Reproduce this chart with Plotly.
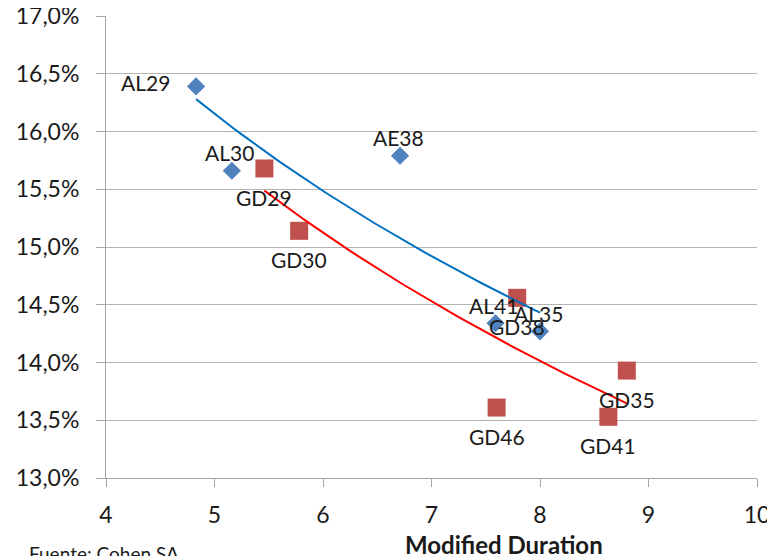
import numpy as np
import plotly.graph_objects as go

# Blue series (AL / AE bonds)
al_names = ["AL29", "AL30", "AE38", "AL41", "AL35"]
al_duration = [4.83, 5.16, 6.71, 7.59, 8.00]
al_yield = [16.39, 15.66, 15.79, 14.34, 14.27]

# Red series (GD bonds)
gd_names = ["GD29", "GD30", "GD38", "GD35", "GD46", "GD41"]
gd_duration = [5.46, 5.78, 7.79, 8.80, 7.60, 8.63]
gd_yield = [15.68, 15.14, 14.56, 13.93, 13.61, 13.53]

x_ticks = [4, 5, 6, 7, 8, 9, 10]
y_ticks = [13.0, 13.5, 14.0, 14.5, 15.0, 15.5, 16.0, 16.5, 17.0]
y_tick_labels = ["13,0%", "13,5%", "14,0%", "14,5%", "15,0%",
                 "15,5%", "16,0%", "16,5%", "17,0%"]

FONT = "Lato"
TXT = "#1a1a1a"


def log_trend(xs, ys, n=60):
    xs = np.asarray(xs, float)
    ys = np.asarray(ys, float)
    b, a = np.polyfit(np.log(xs), ys, 1)
    xf = np.linspace(xs.min(), xs.max(), n)
    return xf, a + b * np.log(xf)


fig = go.Figure()

fig.add_trace(go.Scatter(
    x=al_duration, y=al_yield, mode="markers",
    marker=dict(symbol="diamond", size=14, color="#4F81BD"),
    showlegend=False, hoverinfo="skip"))
fig.add_trace(go.Scatter(
    x=gd_duration, y=gd_yield, mode="markers",
    marker=dict(symbol="square", size=18, color="#C0504D"),
    showlegend=False, hoverinfo="skip"))

bx, by = log_trend(al_duration, al_yield)
rx, ry = log_trend(gd_duration, gd_yield)
fig.add_trace(go.Scatter(x=bx, y=by, mode="lines",
                         line=dict(color="#0070C0", width=2),
                         showlegend=False, hoverinfo="skip"))
fig.add_trace(go.Scatter(x=rx, y=ry, mode="lines",
                         line=dict(color="#FF0000", width=2),
                         showlegend=False, hoverinfo="skip"))

annotations = []
for i, (n, x, y) in enumerate(zip(al_names, al_duration, al_yield)):
    if i == 0:
        annotations.append(dict(x=x, y=y, text=n, showarrow=False,
                                xanchor="right", yanchor="middle",
                                xshift=-24, yshift=4))
    else:
        annotations.append(dict(x=x, y=y, text=n, showarrow=False,
                                xanchor="center", yanchor="middle",
                                xshift=-2, yshift=18))
for n, x, y in zip(gd_names, gd_duration, gd_yield):
    annotations.append(dict(x=x, y=y, text=n, showarrow=False,
                            xanchor="center", yanchor="middle",
                            yshift=-29))
for a in annotations:
    a["font"] = dict(family=FONT, size=21, color=TXT)

# plot area spans 651 x 462 px
annotations.append(dict(xref="paper", yref="paper", x=(504 - 106) / 651,
                        y=-(544 - 478) / 462, text="<b>Modified Duration</b>",
                        showarrow=False, xanchor="center", yanchor="middle",
                        font=dict(family=FONT, size=24, color=TXT)))
annotations.append(dict(xref="paper", yref="paper", x=-(106 - 27) / 651,
                        y=-(553 - 478) / 462, text="Fuente: Cohen SA",
                        showarrow=False, xanchor="left", yanchor="middle",
                        font=dict(family=FONT, size=19, color=TXT)))

# the page body adds an 8px offset, so margins are compensated
fig.update_layout(
    width=775, height=556,
    margin=dict(l=98, r=26, t=8, b=86, autoexpand=False),
    paper_bgcolor="white", plot_bgcolor="white",
    annotations=annotations,
    font=dict(family=FONT, color=TXT),
)
fig.update_xaxes(range=[4, 10], tickvals=x_ticks, showgrid=False,
                 showline=True, linecolor="#a6a6a6", linewidth=1,
                 ticks="outside", ticklen=8, tickcolor="#a6a6a6",
                 tickfont=dict(family=FONT, size=23, color=TXT),
                 ticklabeloverflow="allow", ticklabelstandoff=8,
                 zeroline=False, fixedrange=True, automargin=False)
fig.update_yaxes(range=[13, 17], tickvals=y_ticks, ticktext=y_tick_labels,
                 showgrid=True, gridcolor="#b3b3b3",
                 showline=True, linecolor="#a6a6a6", linewidth=1,
                 ticks="outside", ticklen=9, tickcolor="#a6a6a6",
                 tickfont=dict(family=FONT, size=23, color=TXT),
                 ticklabeloverflow="allow", ticklabelstandoff=12,
                 zeroline=False, fixedrange=True, automargin=False)

fig.write_html("out.html")
